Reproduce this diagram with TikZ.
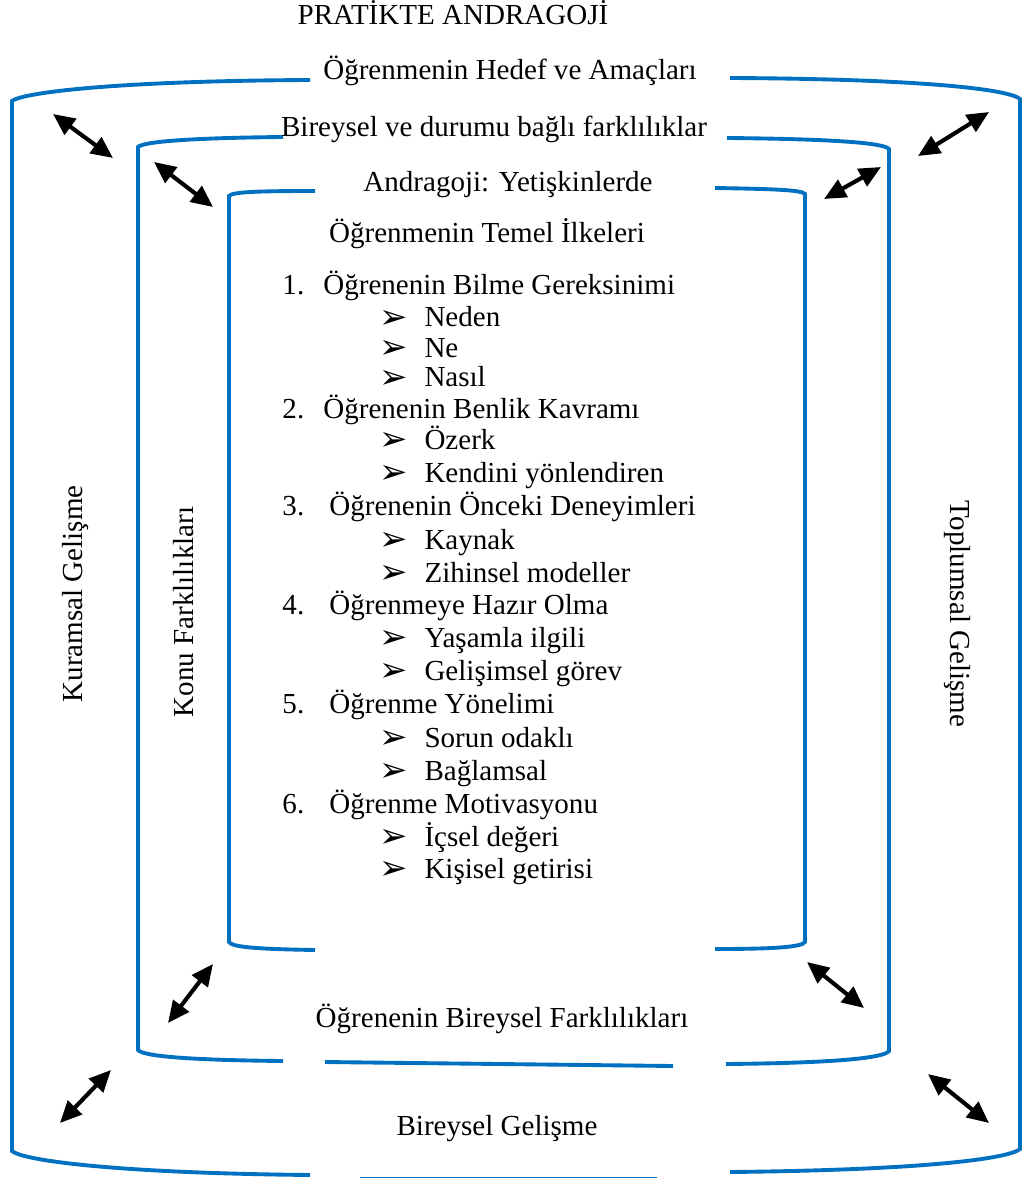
\documentclass[tikz,border=0pt]{standalone}
\usepackage{fontspec}
\setmainfont{Liberation Serif}
\newfontfamily\symfont{DejaVu Sans}
\usepackage{tikz}
\usetikzlibrary{arrows.meta,positioning}
\definecolor{frameblue}{RGB}{0,112,192}
\newcommand{\subitm}[1]{\makebox[18.6pt][l]{\smash{\raisebox{-0.5pt}{\fontsize{14}{14}\symfont ➢}}}#1}

\begin{document}
\begin{tikzpicture}[x=0.4132pt, y=-0.4132pt, font=\fontsize{12}{14}\selectfont,
		frame/.style={draw=frameblue, line width=1.6pt},
		dblarrow/.style={{Triangle[length=9pt,width=8pt]}-{Triangle[length=9pt,width=8pt]}, line width=1.7pt},
		lbl/.style={inner sep=0pt, anchor=base},
		row/.style={inner sep=0pt, anchor=base west, text height=8.5pt, text depth=2.5pt}]
				\useasboundingbox (0,0) rectangle (1029,1178);
				
				% outer frame
				\draw [frame] (310,80) .. controls (110,81) and (22,93) .. (12,101) -- (12,1151) .. controls (22,1160) and (110,1173) .. (310,1175);
				\draw [frame] (730,78) .. controls (930,79) and (1010,90) .. (1020,99) -- (1020,1149) .. controls (1010,1158) and (930,1170) .. (730,1172);
				\draw [frame] (360,1178.5) -- (657,1178.5);
				
				% middle frame
				\draw [frame] (283,137) .. controls (185,138) and (143,142) .. (138,147) -- (138,1050) .. controls (143,1056) and (185,1060) .. (283,1061);
				\draw [frame] (727,138) .. controls (835,139) and (884,143) .. (889,149) -- (889,1051) .. controls (884,1058) and (835,1063) .. (726,1064);
				\draw [frame] (325,1062) -- (673,1066);
				
				% inner frame
				\draw [frame] (315,191) .. controls (255,191) and (232,192) .. (229,196) -- (229,942) .. controls (232,947) and (255,949) .. (315,950);
				\draw [frame] (715,188) .. controls (775,189) and (802,190) .. (805,194) -- (805,942) .. controls (802,947) and (775,949) .. (715,949);
				
				% arrow ends
				\coordinate (a1) at (53,114);   \coordinate (b1) at (113,158);
				\coordinate (a2) at (154,162);  \coordinate (b2) at (213,207);
				\coordinate (a3) at (918,156);  \coordinate (b3) at (989,112);
				\coordinate (a4) at (824,199);  \coordinate (b4) at (881,167);
				\coordinate (a5) at (168,1023); \coordinate (b5) at (213,964);
				\coordinate (a6) at (60,1123);  \coordinate (b6) at (111,1070);
				\coordinate (a7) at (807,962);  \coordinate (b7) at (864,1008);
				\coordinate (a8) at (928,1074); \coordinate (b8) at (989,1123);
				\draw [dblarrow] (a1) -- (b1);
				\draw [dblarrow] (a2) -- (b2);
				\draw [dblarrow] (a3) -- (b3);
				\draw [dblarrow] (a4) -- (b4);
				\draw [dblarrow] (a5) -- (b5);
				\draw [dblarrow] (a6) -- (b6);
				\draw [dblarrow] (a7) -- (b7);
				\draw [dblarrow] (a8) -- (b8);
				
				% headings
				\node [lbl] (title) at (453,25) {PRATİKTE ANDRAGOJİ};
				\node [lbl] (goal) at (510,80) {Öğrenmenin Hedef ve Amaçları};
				\node [lbl] (diff) at (494,137) {Bireysel ve durumu bağlı farklılıklar};
				\node [lbl] (andra) at (508,192) {Andragoji: Yetişkinlerde};
				\node [lbl] (basics) at (487,243) {Öğrenmenin Temel İlkeleri};
				\node [lbl] (learner) at (502,1027) {Öğrenenin Bireysel Farklılıkları};
				\node [lbl] (persdev) at (497,1135) {Bireysel Gelişme};
				
				% side labels
				\node [lbl, rotate=90] (theory) at (82,594) {Kuramsal Gelişme};
				\node [lbl, rotate=90] (subject) at (193,612) {Konu Farklılıkları};
				\node [lbl, rotate=-90] (society) at (950,614) {Toplumsal Gelişme};
				
				% list
				\node [row] (item1) at (282,295) {\makebox[16.9pt][l]{1.}Öğrenenin Bilme Gereksinimi};
				\node [row] (sub1a) at (379,327) {\subitm{Neden}};
				\node [row] (sub1b) at (379,357) {\subitm{Ne}};
				\node [row] (sub1c) at (379,387) {\subitm{Nasıl}};
				\node [row] (item2) at (282,418) {\makebox[16.9pt][l]{2.}Öğrenenin Benlik Kavramı};
				\node [row] (sub2a) at (379,449) {\subitm{Özerk}};
				\node [row] (sub2b) at (379,482) {\subitm{Kendini yönlendiren}};
				\node [row] (item3) at (282,515) {\makebox[19.4pt][l]{3.}Öğrenenin Önceki Deneyimleri};
				\node [row] (sub3a) at (379,549) {\subitm{Kaynak}};
				\node [row] (sub3b) at (379,582) {\subitm{Zihinsel modeller}};
				\node [row] (item4) at (282,614) {\makebox[19.4pt][l]{4.}Öğrenmeye Hazır Olma};
				\node [row] (sub4a) at (379,647) {\subitm{Yaşamla ilgili}};
				\node [row] (sub4b) at (379,680) {\subitm{Gelişimsel görev}};
				\node [row] (item5) at (282,713) {\makebox[19.4pt][l]{5.}Öğrenme Yönelimi};
				\node [row] (sub5a) at (379,747) {\subitm{Sorun odaklı}};
				\node [row] (sub5b) at (379,780) {\subitm{Bağlamsal}};
				\node [row] (item6) at (282,813) {\makebox[19.4pt][l]{6.}Öğrenme Motivasyonu};
				\node [row] (sub6a) at (379,846) {\subitm{İçsel değeri}};
				\node [row] (sub6b) at (379,878) {\subitm{Kişisel getirisi}};
			\end{tikzpicture}
\end{document}
